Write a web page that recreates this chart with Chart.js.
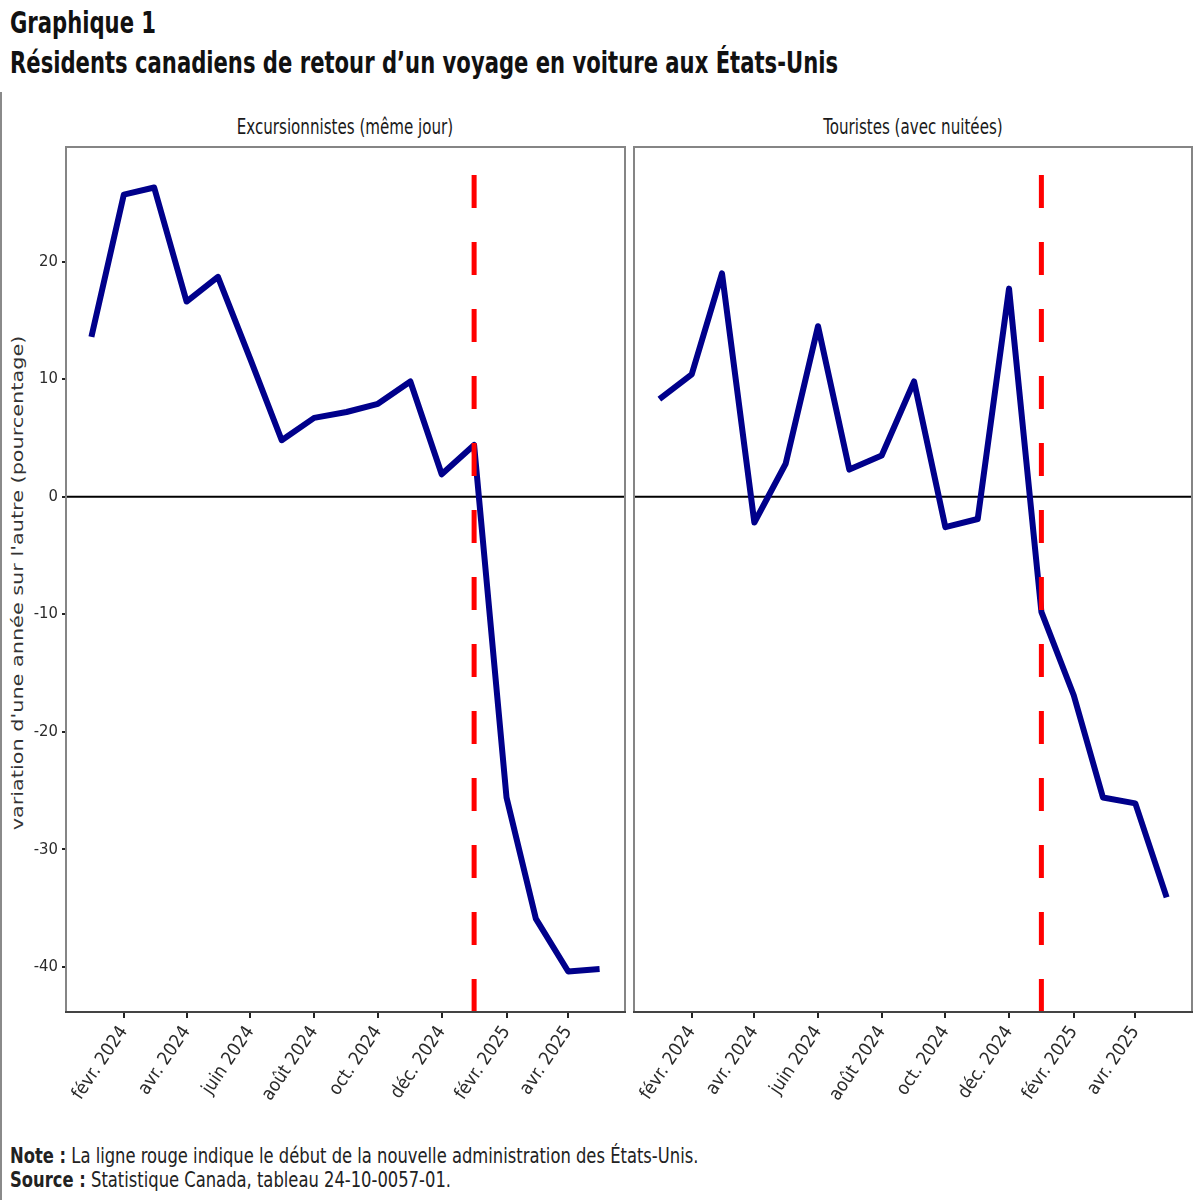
<!DOCTYPE html>
<html lang="fr">
<head>
<meta charset="utf-8">
<script src="https://cdn.jsdelivr.net/npm/chart.js@4"></script>
<style>
  html, body { margin: 0; padding: 0; background: #fff; }
  body { width: 1200px; height: 1200px; position: relative; overflow: hidden;
         font-family: 'DejaVu Sans Condensed', 'DejaVu Sans', sans-serif; font-stretch: condensed; }
  .abs { position: absolute; white-space: nowrap; }
  .title { left: 10px; font-weight: bold; font-size: 23.5px; line-height: 28px; color: #111;
           transform: scaleY(1.3); transform-origin: 0 0; }
  .strip { top: 127px; font-size: 16.8px; line-height: 1; color: #1a1a1a;
           transform: translate(-50%, -50%) scaleY(1.25); }
  #ytitle { left: 18px; top: 583px; font-family: 'DejaVu Sans', sans-serif; font-stretch: normal;
            font-size: 16px; line-height: 1; color: #333;
            transform: translate(-50%, -50%) scaleY(1.3) rotate(-90deg); }
  .note { left: 10px; font-size: 18.2px; line-height: 1; color: #222;
          transform: translateY(-50%) scaleY(1.12); transform-origin: 0 50%; }
  #leftbar { left: 0; top: 92px; width: 2px; height: 1108px; background: #8a8a8a; }
  canvas { position: absolute; top: 0; }
</style>
</head>
<body>
<div class="abs title" style="top:3.5px">Graphique 1</div>
<div class="abs title" style="top:43.5px">Résidents canadiens de retour d’un voyage en voiture aux États-Unis</div>
<div id="leftbar" class="abs"></div>
<div id="strip1" class="abs strip" style="left:345px"></div>
<div id="strip2" class="abs strip" style="left:913px"></div>
<div id="ytitle" class="abs">variation d'une année sur l'autre (pourcentage)</div>
<div class="abs note" style="top:1156px"><b>Note :</b> La ligne rouge indique le début de la nouvelle administration des États-Unis.</div>
<div class="abs note" style="top:1180px"><b>Source :</b> Statistique Canada, tableau 24-10-0057-01.</div>
<canvas id="c1" width="640" height="1140" style="left:0"></canvas>
<canvas id="c2" width="600" height="1140" style="left:600px"></canvas>
<script>
// ---- Data ----
const months = ['2024-01','2024-02','2024-03','2024-04','2024-05','2024-06','2024-07','2024-08',
                '2024-09','2024-10','2024-11','2024-12','2025-01','2025-02','2025-03','2025-04','2025-05'];
const excursionnistes = [13.6, 25.7, 26.3, 16.6, 18.7, 11.7, 4.8, 6.7, 7.2, 7.9, 9.8, 1.9, 4.4, -25.6, -35.9, -40.4, -40.2];
const touristes = [8.3, 10.4, 19.0, -2.2, 2.8, 14.5, 2.3, 3.5, 9.8, -2.6, -1.9, 17.7, -9.8, -16.9, -25.6, -26.1, -34.1];
const panelTitles = ['Excursionnistes (même jour)', 'Touristes (avec nuitées)'];
const xTickMonths = ['2024-02','2024-04','2024-06','2024-08','2024-10','2024-12','2025-02','2025-04'];
const xTickLabels = ['févr. 2024','avr. 2024','juin 2024','août 2024','oct. 2024','déc. 2024','févr. 2025','avr. 2025'];
const yTicks = [-40, -30, -20, -10, 0, 10, 20];
const eventMonth = '2025-01';   // début de la nouvelle administration
const yMin = -43.85, yMax = 29.75;

document.getElementById('strip1').textContent = panelTitles[0];
document.getElementById('strip2').textContent = panelTitles[1];

// ---- helpers ----
const origin = Date.UTC(2024, 0, 1);
function dayOf(m) { const [y, mo] = m.split('-').map(Number); return (Date.UTC(y, mo - 1, 1) - origin) / 86400000; }
const xFirst = dayOf(months[0]), xLast = dayOf(months[months.length - 1]);
const xPad = (xLast - xFirst) * 0.05;

const FONT = "'DejaVu Sans Condensed', 'DejaVu Sans', sans-serif";
Chart.defaults.font.family = FONT;

const panelPlugin = {
  id: 'panel',
  beforeDatasetsDraw(chart) {
    const { ctx, chartArea: a, scales: { y } } = chart;
    ctx.save();
    ctx.strokeStyle = '#000'; ctx.lineWidth = 2;
    const y0 = y.getPixelForValue(0);
    ctx.beginPath(); ctx.moveTo(a.left, y0); ctx.lineTo(a.right, y0); ctx.stroke();
    ctx.restore();
  },
  afterDatasetsDraw(chart) {
    const { ctx, chartArea: a, scales: { x } } = chart;
    ctx.save();
    const xv = x.getPixelForValue(dayOf(eventMonth));
    ctx.strokeStyle = '#ff0000'; ctx.lineWidth = 5; ctx.setLineDash([33, 34]);
    ctx.beginPath(); ctx.moveTo(xv, a.bottom); ctx.lineTo(xv, a.top); ctx.stroke();
    ctx.setLineDash([]);
    ctx.strokeStyle = '#858585'; ctx.lineWidth = 2;
    ctx.strokeRect(a.left, a.top, a.right - a.left, a.bottom - a.top);
    ctx.strokeStyle = '#444';
    ctx.beginPath(); ctx.moveTo(a.left - 1, a.bottom); ctx.lineTo(a.right + 1, a.bottom); ctx.stroke();
    ctx.restore();
  }
};

function makeChart(id, values, showY, yWidth, padding) {
  return new Chart(document.getElementById(id), {
    type: 'line',
    data: {
      datasets: [{
        data: months.map((m, i) => ({ x: dayOf(m), y: values[i] })),
        borderColor: '#00008b', borderWidth: 6, pointRadius: 0, tension: 0,
        borderCapStyle: 'butt', borderJoinStyle: 'round', fill: false
      }]
    },
    options: {
      responsive: false, animation: false, devicePixelRatio: 1,
      layout: { padding },
      plugins: { legend: { display: false }, tooltip: { enabled: false }, title: { display: false } },
      scales: {
        x: {
          type: 'linear', min: xFirst - xPad, max: xLast + xPad,
          afterBuildTicks: (s) => { s.ticks = xTickMonths.map(m => ({ value: dayOf(m) })); },
          afterFit: (s) => { s.height = 128; },
          ticks: { autoSkip: false, minRotation: 56, maxRotation: 56, padding: 4,
                   font: { size: 18.5, family: FONT }, color: '#2b2b2b',
                   callback: (v, i) => xTickLabels[i] },
          grid: { drawOnChartArea: false, drawTicks: true, tickLength: 6, color: '#222', lineWidth: 2 },
          border: { display: false }
        },
        y: {
          type: 'linear', min: yMin, max: yMax,
          afterBuildTicks: (s) => { s.ticks = yTicks.map(v => ({ value: v })); },
          afterFit: (s) => { s.width = yWidth; },
          ticks: { display: showY, padding: 4, font: { size: 16.5, family: FONT }, color: '#2b2b2b', callback: (v) => String(v) },
          grid: { display: showY, drawOnChartArea: false, drawTicks: showY, tickLength: 4, color: '#222', lineWidth: 2 },
          border: { display: false }
        }
      }
    },
    plugins: [panelPlugin]
  });
}

makeChart('c1', excursionnistes, true, 66, { top: 147, right: 15, bottom: 0, left: 0 });
makeChart('c2', touristes, false, 34, { top: 147, right: 8, bottom: 0, left: 0 });
</script>
</body>
</html>
